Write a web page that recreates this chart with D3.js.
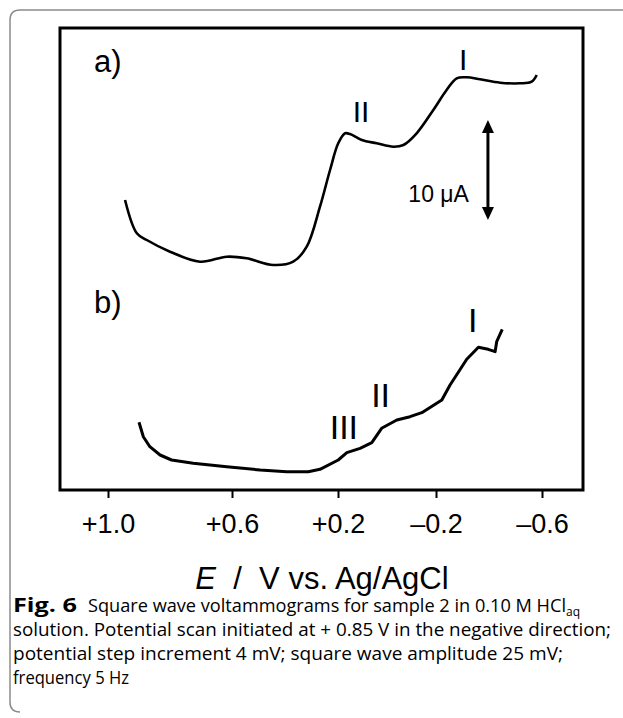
<!DOCTYPE html>
<html>
<head>
<meta charset="utf-8">
<script src="https://cdn.jsdelivr.net/npm/d3@7"></script>
<style>
  body { margin: 0; background: #fff; }
  svg { display: block; }
</style>
</head>
<body>
<script>
var width = 623
var height = 718

// potential (V vs Ag/AgCl) and current (uA, arbitrary offset)
var curve_a_E = [0.945, 0.907, 0.875, 0.800, 0.703, 0.617, 0.545, 0.444, 0.369, 0.318, 0.268, 0.230, 0.199, 0.171, 0.151, 0.103, 0.042, -0.026, -0.067, -0.121, -0.189, -0.240, -0.278, -0.316, -0.366, -0.442, -0.517, -0.561, -0.580]
var curve_a_I = [29.0, 25.67, 25.0, 23.83, 22.83, 23.33, 23.17, 22.5, 22.83, 24.33, 28.33, 32.0, 34.67, 35.67, 35.6, 35.0, 34.67, 34.33, 34.5, 35.67, 38.0, 40.0, 41.17, 41.27, 41.07, 40.73, 40.67, 40.83, 41.5]

var curve_b_E = [0.900, 0.886, 0.865, 0.832, 0.795, 0.725, 0.617, 0.494, 0.394, 0.312, 0.268, 0.199, 0.164, 0.110, 0.062, 0.022, -0.040, -0.094, -0.142, -0.222, -0.253, -0.316, -0.360, -0.397, -0.423, -0.429, -0.450]
var curve_b_I = [6.77, 5.33, 4.33, 3.5, 3.0, 2.67, 2.33, 2.0, 1.83, 1.83, 2.07, 3.0, 3.73, 4.17, 4.73, 6.17, 7.0, 7.33, 7.73, 9.0, 10.5, 13.07, 14.27, 14.07, 13.83, 14.83, 16.07]

var tick_values = [1.0, 0.6, 0.2, -0.2, -0.6]

var labels_a = ["I", "II"]
var labels_a_E = [-0.303, 0.106]
var labels_a_I = [42.0, 36.83]
var labels_b = ["I", "II", "III"]
var labels_b_E = [-0.339, 0.026, 0.176]
var labels_b_I = [15.83, 8.33, 5.07]

var bar_E = -0.396
var bar_top = 37
var bar_size = 10

var caption_lines = [
  "solution. Potential scan initiated at + 0.85 V in the negative direction;",
  "potential step increment 4 mV; square wave amplitude 25 mV;",
  "frequency 5 Hz"
]

var box = {left: 60, top: 28, right: 583, bottom: 490}

// the printed axis is not evenly spaced, so a piecewise scale through the ticks
var x = d3.scaleLinear()
.domain(tick_values)
.range([108, 232, 338, 436, 542])

var y = d3.scaleLinear()
.domain([0, 46.2])
.range([box.bottom, box.top])

var svg = d3.select("body").append("svg")
.attr("width", width)
.attr("height", height)

// page frame (left and top edge of the article box)
svg.append("path")
.attr("d", "M623,10 L20,10 Q10,10 10,20 L10,702 Q10,712 20,712")
.attr("fill", "none")
.attr("stroke", "#8c8c8c")
.attr("stroke-width", 1.5)

svg.append("g")
.attr("transform", "translate(0," + box.bottom + ")")
.call(d3.axisBottom(x).tickValues(tick_values).tickSize(8).tickSizeOuter(0)
  .tickFormat(function(d) { return d > 0 ? "+" + d.toFixed(1) : "\u2013" + Math.abs(d).toFixed(1) }))
.call(function(g) { g.select(".domain").remove() })
.call(function(g) {
  g.selectAll(".tick line").attr("stroke", "#000").attr("stroke-width", 2)
  g.selectAll(".tick text")
  .attr("y", 43)
  .attr("dy", 0)
  .attr("fill", "#000")
  .style("font-family", "Liberation Sans, Arial, sans-serif")
  .style("font-size", "27px")
})

svg.append("rect")
.attr("x", box.left)
.attr("y", box.top)
.attr("width", box.right - box.left)
.attr("height", box.bottom - box.top)
.attr("fill", "none")
.attr("stroke", "#000")
.attr("stroke-width", 3)

var line = d3.line()
.x(function(d) { return x(d[0]) })
.y(function(d) { return y(d[1]) })

svg.append("path")
.datum(d3.zip(curve_a_E, curve_a_I))
.attr("d", line.curve(d3.curveCatmullRom.alpha(0.5)))
.attr("fill", "none")
.attr("stroke", "#000")
.attr("stroke-width", 2.6)
.attr("stroke-linejoin", "round")

svg.append("path")
.datum(d3.zip(curve_b_E, curve_b_I))
.attr("d", line.curve(d3.curveLinear))
.attr("fill", "none")
.attr("stroke", "#000")
.attr("stroke-width", 3)
.attr("stroke-linejoin", "round")

function numerals(names, es, is, size) {
  svg.append("g").selectAll()
  .data(d3.zip(names, es, is))
  .enter().append("text")
  .attr("x", function(d) { return x(d[1]) })
  .attr("y", function(d) { return y(d[2]) })
  .attr("text-anchor", "middle")
  .style("font-family", "Liberation Sans, Arial, sans-serif")
  .style("font-size", size + "px")
  .text(function(d) { return d[0] })
}
numerals(labels_a, labels_a_E, labels_a_I, 30)
numerals(labels_b, labels_b_E, labels_b_I, 34)

svg.append("text").attr("x", 94).attr("y", 72).text("a)")
.style("font-family", "Liberation Sans, Arial, sans-serif").style("font-size", "31px")
svg.append("text").attr("x", 94).attr("y", 313).text("b)")
.style("font-family", "Liberation Sans, Arial, sans-serif").style("font-size", "31px")

// 10 uA scale bar
var bx = x(bar_E)
var by1 = y(bar_top)
var by2 = y(bar_top - bar_size)
svg.append("line")
.attr("x1", bx).attr("x2", bx)
.attr("y1", by1 + 8).attr("y2", by2 - 8)
.attr("stroke", "#000").attr("stroke-width", 3)
svg.append("path")
.attr("d", "M" + bx + "," + by1 + " L" + (bx - 6) + "," + (by1 + 13) + " L" + (bx + 6) + "," + (by1 + 13) + "Z")
svg.append("path")
.attr("d", "M" + bx + "," + by2 + " L" + (bx - 6) + "," + (by2 - 13) + " L" + (bx + 6) + "," + (by2 - 13) + "Z")
svg.append("text")
.attr("x", bx - 19)
.attr("y", y(bar_top - bar_size / 2) + 32)
.attr("text-anchor", "end")
.style("font-family", "Liberation Sans, Arial, sans-serif")
.style("font-size", "23px")
.text("10 \u03bcA")

// axis title
var title = svg.append("text")
.attr("x", 322)
.attr("y", 589)
.attr("text-anchor", "middle")
.style("font-family", "Liberation Sans, Arial, sans-serif")
.style("font-size", "31px")
.style("white-space", "pre")
title.append("tspan").style("font-style", "italic").text("E")
title.append("tspan").text("  /  V vs. Ag/AgCl")

// caption
var cap_font = "Open Sans, Noto Sans, sans-serif"
svg.append("text")
.attr("x", 13)
.attr("y", 612)
.attr("textLength", 64)
.attr("lengthAdjust", "spacingAndGlyphs")
.style("font-family", cap_font)
.style("font-size", "19px")
.style("font-weight", "bold")
.text("Fig. 6")

var first = svg.append("text")
.attr("x", 88)
.attr("y", 612)
.style("font-family", cap_font)
.style("font-size", "19px")
first.append("tspan")
.attr("textLength", 478)
.attr("lengthAdjust", "spacingAndGlyphs")
.text("Square wave voltammograms for sample 2 in 0.10 M HCl")
first.append("tspan").attr("dy", 4).style("font-size", "12px").text("aq")

svg.append("g").selectAll()
.data(caption_lines)
.enter().append("text")
.attr("x", 13)
.attr("y", function(d, i) { return 636 + i * 24 })
.attr("textLength", function(d, i) { return [598, 550, 116][i] })
.attr("lengthAdjust", "spacingAndGlyphs")
.style("font-family", cap_font)
.style("font-size", "19px")
.text(function(d) { return d })
</script>
</body>
</html>
